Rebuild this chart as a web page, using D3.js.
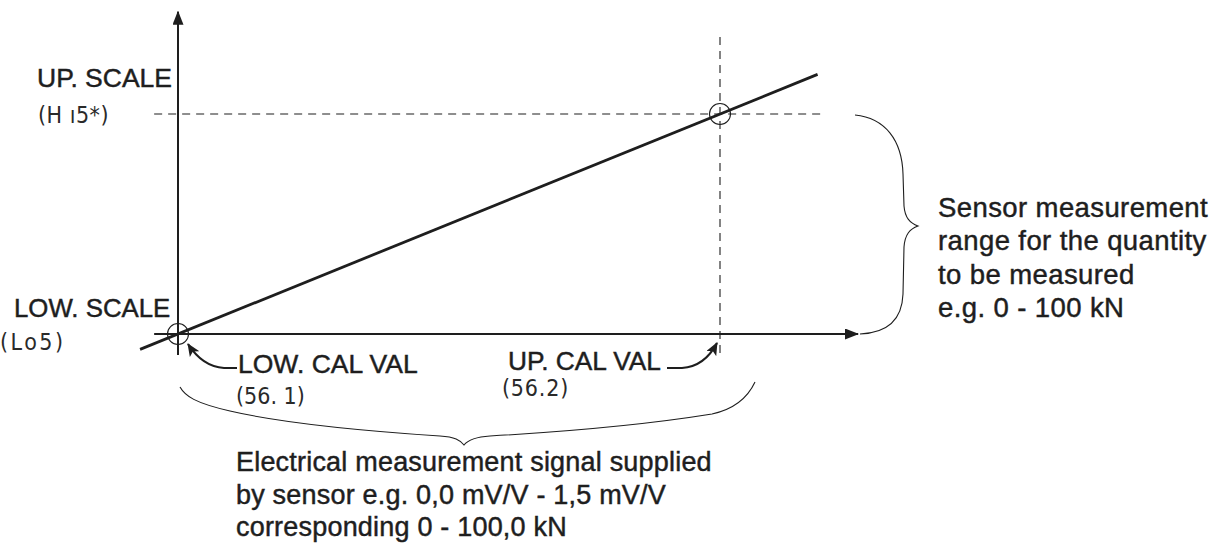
<!DOCTYPE html>
<html>
<head>
<meta charset="utf-8">
<script src="https://cdn.jsdelivr.net/npm/d3@7"></script>
<style>
  html, body { margin: 0; padding: 0; background: #fff; }
  svg { display: block; }
  .lbl { font-family: "Liberation Sans", Arial, Helvetica, sans-serif; fill: #1e1e1e; stroke: #1e1e1e; stroke-width: 0.45px; }
  .seg { font-family: "DejaVu Sans Condensed", "DejaVu Sans", sans-serif; font-weight: 200; fill: #2a2a2a; }
</style>
</head>
<body>
<svg id="chart" width="1219" height="545"></svg>
<script>
// ---- data (signal in mV/V, quantity in kN) ----
const calSignal = [0, 1.5];            // LOW. CAL VAL, UP. CAL VAL
const calForce  = [0, 100];            // LOW. SCALE, UP. SCALE
const lineSignal = [-0.105, 1.77];     // drawn extent of the characteristic line
const lineForce  = [-7, 118];
const xAxisExtent = [-0.066, 1.882];
const yAxisExtent = [-9.5, 146.5];
const vGuideForce  = [-8.6, 136.4];    // dashed vertical guide at UP. CAL VAL
const hGuideSignal = [-0.066, 1.783];  // dashed horizontal guide at UP. SCALE
const scaleLabels = ["LOW. SCALE", "UP. SCALE"];
const scaleCodes  = ["(Lo5)", "(H \u01315*)"];
const calLabels   = ["LOW. CAL VAL", "UP. CAL VAL"];
const calCodes    = ["(56. 1)", "(56.2)"];
const rangeText  = ["Sensor measurement", "range for the quantity", "to be measured", "e.g. 0 - 100 kN"];
const signalText = ["Electrical measurement signal supplied", "by sensor e.g. 0,0 mV/V - 1,5 mV/V", "corresponding 0 - 100,0 kN"];

const svg = d3.select("#chart");
const x = d3.scaleLinear().domain([0, 1.5]).range([178, 720]);
const y = d3.scaleLinear().domain([0, 100]).range([334, 114]);
const ink = "#1e1e1e";

const defs = svg.append("defs");
defs.append("marker").attr("id", "axArrow")
  .attr("viewBox", "0 0 14 11").attr("refX", 13).attr("refY", 5.5)
  .attr("markerWidth", 14).attr("markerHeight", 11).attr("markerUnits", "userSpaceOnUse")
  .attr("orient", "auto")
  .append("path").attr("d", "M0,0 L14,5.5 L0,11 Z").attr("fill", ink);
defs.append("marker").attr("id", "smArrow")
  .attr("viewBox", "0 0 13 11").attr("refX", 12).attr("refY", 5.5)
  .attr("markerWidth", 13).attr("markerHeight", 11).attr("markerUnits", "userSpaceOnUse")
  .attr("orient", "auto")
  .append("path").attr("d", "M0,0 L13,5.5 L0,11 L3,5.5 Z").attr("fill", ink);

// dashed guides
svg.append("line")
  .attr("x1", x(calSignal[1])).attr("x2", x(calSignal[1]))
  .attr("y1", y(vGuideForce[0])).attr("y2", y(vGuideForce[1]))
  .attr("stroke", ink).attr("stroke-width", 1.1).attr("stroke-dasharray", "8,6");
svg.append("line")
  .attr("x1", x(hGuideSignal[0])).attr("x2", x(hGuideSignal[1]))
  .attr("y1", y(calForce[1])).attr("y2", y(calForce[1]))
  .attr("stroke", ink).attr("stroke-width", 1.1).attr("stroke-dasharray", "8,6");

// axes
svg.append("line")
  .attr("x1", x(xAxisExtent[0])).attr("x2", x(xAxisExtent[1]))
  .attr("y1", y(0)).attr("y2", y(0))
  .attr("stroke", ink).attr("stroke-width", 2).attr("marker-end", "url(#axArrow)");
svg.append("line")
  .attr("x1", x(0)).attr("x2", x(0))
  .attr("y1", y(yAxisExtent[0])).attr("y2", y(yAxisExtent[1]))
  .attr("stroke", ink).attr("stroke-width", 2).attr("marker-end", "url(#axArrow)");

// characteristic line
const pts = lineSignal.map((s, i) => [s, lineForce[i]]);
svg.append("path")
  .attr("d", d3.line().x(d => x(d[0])).y(d => y(d[1]))(pts))
  .attr("fill", "none").attr("stroke", ink).attr("stroke-width", 2.8);

// calibration circles
svg.selectAll("circle.cal").data(calSignal).join("circle")
  .attr("class", "cal")
  .attr("cx", d => x(d)).attr("cy", (d, i) => y(calForce[i]))
  .attr("r", 10.5).attr("fill", "none").attr("stroke", ink).attr("stroke-width", 1.1);

// scale labels (left)
const X0 = x(0), Y0 = y(0), X1 = x(1.5), Y1 = y(100);
svg.append("text").attr("class", "lbl").attr("x", 37).attr("y", Y1 - 27).attr("font-size", 26.5).text(scaleLabels[1]);
svg.append("text").attr("class", "seg").attr("x", 38).attr("y", Y1 + 9).attr("font-size", 23).attr("letter-spacing", 0.5).text(scaleCodes[1]);
svg.append("text").attr("class", "lbl").attr("x", 14).attr("y", Y0 - 17).attr("font-size", 25.8).text(scaleLabels[0]);
svg.append("text").attr("class", "seg").attr("x", 0).attr("y", Y0 + 16).attr("font-size", 23).attr("letter-spacing", 2.5).text(scaleCodes[0]);

// cal labels
svg.append("text").attr("class", "lbl").attr("x", X0 + 60).attr("y", Y0 + 39).attr("font-size", 26.5).text(calLabels[0]);
svg.append("text").attr("class", "seg").attr("x", X0 + 58).attr("y", Y0 + 70).attr("font-size", 23).text(calCodes[0]);
svg.append("text").attr("class", "lbl").attr("x", X1 - 212).attr("y", Y0 + 36).attr("font-size", 26.3).text(calLabels[1]);
svg.append("text").attr("class", "seg").attr("x", X1 - 218).attr("y", Y0 + 62).attr("font-size", 23).attr("letter-spacing", 0.8).text(calCodes[1]);

// curved arrows to the calibration circles
svg.append("path")
  .attr("d", `M${X0 + 59},${Y0 + 34} L${X0 + 46},${Y0 + 34} C${X0 + 30},${Y0 + 33} ${X0 + 19},${Y0 + 24} ${X0 + 10},${Y0 + 10}`)
  .attr("fill", "none").attr("stroke", ink).attr("stroke-width", 2.2).attr("marker-end", "url(#smArrow)");
svg.append("path")
  .attr("d", `M${X1 - 53},${Y0 + 34} L${X1 - 38},${Y0 + 34} C${X1 - 22},${Y0 + 33} ${X1 - 11},${Y0 + 24} ${X1 - 3},${Y0 + 9}`)
  .attr("fill", "none").attr("stroke", ink).attr("stroke-width", 2.2).attr("marker-end", "url(#smArrow)");

// right brace (measurement range)
const bx = 855;
svg.append("path")
  .attr("d", `M${bx},${Y1 + 1} C${bx + 30},${Y1 + 4} ${bx + 47},${Y1 + 26} ${bx + 48},${Y1 + 60}
              L${bx + 49},${Y1 + 92} C${bx + 50},${Y1 + 104} ${bx + 55},${Y1 + 109} ${bx + 63},${Y1 + 112}
              C${bx + 55},${Y1 + 115} ${bx + 50},${Y1 + 120} ${bx + 49},${Y1 + 133}
              L${bx + 48},${Y0 - 40} C${bx + 47},${Y0 - 12} ${bx + 30},${Y0 - 1} ${bx + 5},${Y0}`)
  .attr("fill", "none").attr("stroke", ink).attr("stroke-width", 1.1);

// bottom brace (signal range)
svg.append("path")
  .attr("d", `M${X0 + 2},387 C${X0 + 7},396 ${X0 + 17},403 ${X0 + 52},411
              C${X0 + 112},425 ${X0 + 202},432 ${X0 + 262},436 C${X0 + 277},437 ${X0 + 282},440 ${X0 + 286},445
              C${X0 + 290},440 ${X0 + 297},437 ${X0 + 312},436 C${X0 + 382},432 ${X0 + 472},424 ${X0 + 534},414
              C${X0 + 557},409 ${X0 + 570},397 ${X0 + 577},382`)
  .attr("fill", "none").attr("stroke", ink).attr("stroke-width", 1.1);

// explanatory texts
svg.append("g").selectAll("text").data(rangeText).join("text")
  .attr("class", "lbl").attr("x", 938).attr("y", (d, i) => 217 + i * 33.4)
  .attr("font-size", 27.5).attr("letter-spacing", 0.4).text(d => d);
svg.append("g").selectAll("text").data(signalText).join("text")
  .attr("class", "lbl").attr("x", 236).attr("y", (d, i) => 471 + i * 32.5)
  .attr("font-size", 27).attr("letter-spacing", 0.2).text(d => d);
</script>
</body>
</html>
